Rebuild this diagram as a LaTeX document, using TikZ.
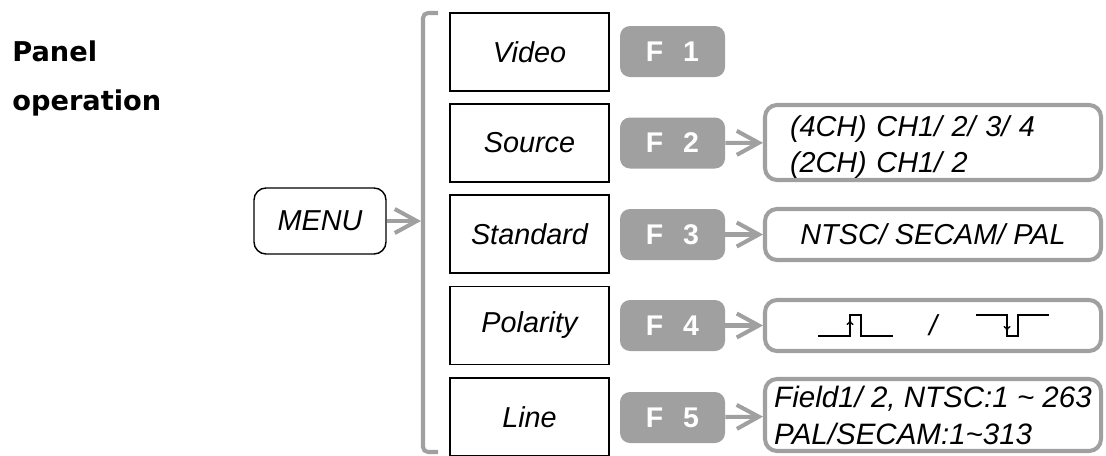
\documentclass[tikz,border=0pt]{standalone}
\usepackage{fontspec}
\setsansfont{Liberation Sans}
\newfontfamily\panelfont{DejaVu Sans}
\usetikzlibrary{arrows.meta,positioning}
\definecolor{lgray}{RGB}{160,160,160}
\tikzset{
  menupt/.style={draw,line width=0.8pt,minimum width=3.18cm,minimum height=1.56cm,inner sep=0pt},
  fkey/.style={fill=lgray,rounded corners=2mm,minimum width=2.1cm,minimum height=1.02cm,inner sep=0pt,
    text=white,font=\sffamily\bfseries\fontsize{16.2}{18}\selectfont},
  opt/.style={draw=lgray,line width=2.3pt,rounded corners=2.4mm,minimum width=6.72cm,inner sep=0pt},
  nyil/.style={draw=lgray,line width=2.3pt,-{Straight Barb[length=4.4mm,width=4.8mm]}},
  jel/.style={black,line width=0.8pt},
}

\begin{document}
\begin{tikzpicture}[x=0.2mm,y=-0.2mm,font=\sffamily\itshape\fontsize{16.4}{21}\selectfont]
  \useasboundingbox (0,0) rectangle (1106,455);
  \node[anchor=north west,inner sep=0pt,align=left,
    font=\panelfont\bfseries\fontsize{15.5}{28.3}\selectfont] (title) at (12,40) {Panel\\operation};
  \node[draw,line width=0.8pt,rounded corners=2.4mm,minimum width=2.64cm,minimum height=1.32cm] (menu) at (320,221) {MENU};
  % bracket
  \draw[lgray,line width=2.3pt,rounded corners=1mm] (438,13) -- (423,13) -- (423,452) -- (438,452);
  \coordinate (brk) at (421,221);
  \draw[nyil] (menu.east) -- (brk);

  \node[menupt] (video) at (529.5,52) {Video};
  \node[menupt] (source) at (529.5,143) {Source};
  \node[menupt] (standard) at (529.5,234) {Standard};
  \node[menupt] (polarity) at (529.5,325.5) {Polarity};
  \node[menupt] (line) at (529.5,417) {Line};

  \node[fkey] (f1) at (672.5,51.5) {F\hspace{.7em}1};
  \node[fkey] (f2) at (672.5,143) {F\hspace{.7em}2};
  \node[fkey] (f3) at (672.5,234.5) {F\hspace{.7em}3};
  \node[fkey] (f4) at (672.5,325.5) {F\hspace{.7em}4};
  \node[fkey] (f5) at (672.5,417.5) {F\hspace{.7em}5};

  \node[opt,minimum height=1.5cm,align=left,text width=5.72cm] (osrc) at (933,142.5)
    {\rule{0pt}{17pt}(4CH) CH1/ 2/ 3/ 4\\(2CH) CH1/ 2};
  \node[opt,minimum height=1.02cm] (ostd) at (933,234.5) {NTSC/ SECAM/ PAL};
  \node[opt,minimum height=1.02cm] (opol) at (933,325.5) {/};
  \node[opt,minimum height=1.44cm,align=left,font=\sffamily\itshape\fontsize{16.8}{21}\selectfont] (oline) at (933,415)
    {Field1/ 2, NTSC:1 \textasciitilde{} 263\\PAL/SECAM:1\textasciitilde313};

  \draw[nyil] (f2) -- (osrc);
  \draw[nyil] (f3) -- (ostd);
  \draw[nyil] (f4) -- (opol);
  \draw[nyil] (f5) -- (oline);

  % polarity pulses
  \draw[jel] (818,336) -- (850,336) -- (850,315) -- (861,315) -- (861,336) -- (893,336);
  \draw[jel,-{To[length=1mm,width=1.4mm]}] (850,329) -- (850,320);
  \draw[jel] (976,315) -- (1007,315) -- (1007,336) -- (1018,336) -- (1018,315) -- (1049,315);
  \draw[jel,-{To[length=1mm,width=1.4mm]}] (1007,322) -- (1007,331);
\end{tikzpicture}
\end{document}
